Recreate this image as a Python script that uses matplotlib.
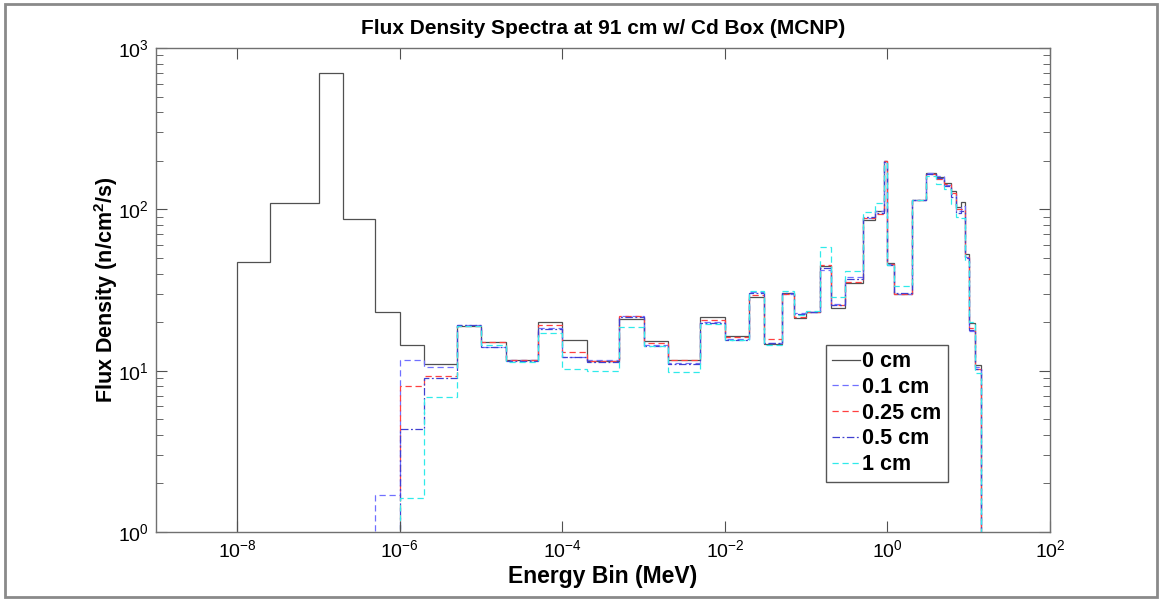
import matplotlib
matplotlib.use("Agg")
import matplotlib.pyplot as plt
import numpy as np
from matplotlib.patches import Rectangle
from matplotlib.ticker import LogLocator, NullLocator, LogFormatterMathtext

# energy bin edges (MeV)
edges = [1e-8, 2.5e-8, 1e-7, 2e-7, 5e-7, 1e-6, 2e-6, 5e-6, 1e-5, 2e-5, 5e-5,
         1e-4, 2e-4, 5e-4, 1e-3, 2e-3, 5e-3, 1e-2, 2e-2, 3e-2, 5e-2, 7e-2,
         0.1, 0.15, 0.2, 0.3, 0.5, 0.7, 0.9, 1.0, 1.2, 2, 3, 4, 5, 6, 7, 8, 9,
         10, 12, 14]

# flux density per bin (n/cm^2/s)
flux_0cm = [47, 110, 697, 87, 23, 14.5, 11.0, 19.0, 15.0, 11.6, 19.9, 15.5, 11.4,
            20.8, 15.2, 11.7, 21.6, 16.5, 28.7, 14.7, 30.2, 21.2, 23.2, 44.5,
            24.4, 35.1, 85.5, 97.6, 199, 46.6, 29.9, 115, 167, 158, 145, 130,
            103, 111, 53, 19.7, 10.9]
flux_01cm = [0, 0, 0, 0, 1.7, 11.6, 10.5, 19.3, 14.1, 11.6, 18.5, 12.1, 11.6,
             21.9, 14.5, 11.1, 19.9, 15.7, 30.9, 14.9, 30.0, 22.7, 23.0, 42,
             26, 38, 88, 97, 199, 46, 30, 115, 168, 160, 142, 125, 97, 105, 51,
             17.5, 10.5]
flux_025cm = [0, 0, 0, 0, 0, 8.0, 9.3, 19.0, 15.0, 11.6, 19.3, 13.0, 11.4,
              21.9, 14.8, 11.7, 20.6, 16.2, 29.4, 15.8, 30.0, 21.5, 23.2, 45,
              25.5, 35.5, 88, 93, 198, 46, 30, 115, 166, 155, 143, 127, 100,
              100, 51, 18.5, 10.3]
flux_05cm = [0, 0, 0, 0, 0, 4.35, 9.0, 19.2, 14.1, 11.5, 18.0, 12.1, 11.3,
             21.5, 14.3, 11.0, 19.8, 15.6, 30.5, 14.8, 30.5, 22.5, 23.0, 43,
             25.5, 37, 90, 95, 197, 45.5, 30.5, 114, 165, 157, 140, 120, 95,
             98, 50, 17.8, 10.2]
flux_1cm = [0, 0, 0, 0, 0, 1.63, 6.9, 18.8, 14.5, 11.3, 17.1, 10.3, 9.9,
            18.6, 14.2, 9.8, 19.5, 15.5, 31.0, 14.4, 31.0, 22.0, 23.5, 58.5,
            28.7, 41.4, 96, 109, 195, 45, 33.6, 115, 162, 144, 134, 108, 90,
            88, 48, 19.9, 9.7]

labels = ['0 cm', '0.1 cm', '0.25 cm', '0.5 cm', '1 cm']

plt.rcParams['font.family'] = 'Liberation Sans'
plt.rcParams['mathtext.fontset'] = 'custom'
plt.rcParams['mathtext.rm'] = 'Liberation Sans'
plt.rcParams['mathtext.bf'] = 'Liberation Sans:bold'
plt.rcParams['mathtext.it'] = 'Liberation Sans:italic'

fig = plt.figure(figsize=(11.6, 6), dpi=100)
ax = fig.add_axes([156 / 1160, 1 - 532 / 600, (1050 - 156) / 1160, (532 - 48) / 600])

series = [flux_0cm, flux_01cm, flux_025cm, flux_05cm, flux_1cm]
styles = [
    dict(color='#505050', linestyle='-', linewidth=0.9),
    dict(color='#7070ff', linestyle=(0, (5, 3)), linewidth=0.9),
    dict(color='#ff4040', linestyle=(0, (5, 3)), linewidth=0.9),
    dict(color='#4040d0', linestyle=(0, (6, 2, 1.5, 2)), linewidth=0.9),
    dict(color='#30eaea', linestyle=(0, (5, 3)), linewidth=0.9),
]
floor = 1e-3  # zero flux drawn off the bottom of the log axis
for vals, lab, st in zip(series, labels, styles):
    v = np.array(vals, dtype=float)
    v = np.where(v > 0, v, floor)
    ax.stairs(v, edges, baseline=floor, label=lab, **st)

ax.set_xscale('log')
ax.set_yscale('log')
ax.set_xlim(1e-9, 1e2)
ax.set_ylim(1e0, 1e3)
ax.set_xticks([1e-8, 1e-6, 1e-4, 1e-2, 1e0, 1e2])
ax.xaxis.set_minor_locator(NullLocator())
ax.xaxis.set_major_formatter(LogFormatterMathtext())
ax.yaxis.set_major_locator(LogLocator(base=10, numticks=10))
ax.yaxis.set_minor_locator(LogLocator(base=10, subs=np.arange(2, 10), numticks=10))

for sp in ax.spines.values():
    sp.set_color('#707070')
    sp.set_linewidth(1.0)
ax.tick_params(which='both', direction='in', top=True, right=True, color='#505050',
               labelsize=14)
ax.tick_params(which='major', length=8, pad=5)
ax.tick_params(which='minor', length=5)

ax.set_title('Flux Density Spectra at 91 cm w/ Cd Box (MCNP)', fontsize=15,
             fontweight='bold', pad=10)
ax.set_xlabel('Energy Bin (MeV)', fontsize=16.5, fontweight='bold', labelpad=3)
ax.set_ylabel(r'Flux Density (n/cm$\mathbf{^2}$/s)', fontsize=15.5, fontweight='bold',
              labelpad=-1)

leg = ax.legend(loc='lower left', bbox_to_anchor=(0.749, 0.104), fancybox=False,
                edgecolor='#555555', framealpha=1, handlelength=1.3,
                handletextpad=0.1, borderpad=0.3, labelspacing=0.22,
                borderaxespad=0, prop={'weight': 'bold', 'size': 15.5})
leg.get_frame().set_linewidth(1.0)

fig.add_artist(Rectangle((5 / 1160, 3 / 600), 1152 / 1160, 593 / 600,
                         transform=fig.transFigure, fill=False,
                         edgecolor='#8a8a8a', linewidth=2))

fig.savefig('out.png', dpi=100)
